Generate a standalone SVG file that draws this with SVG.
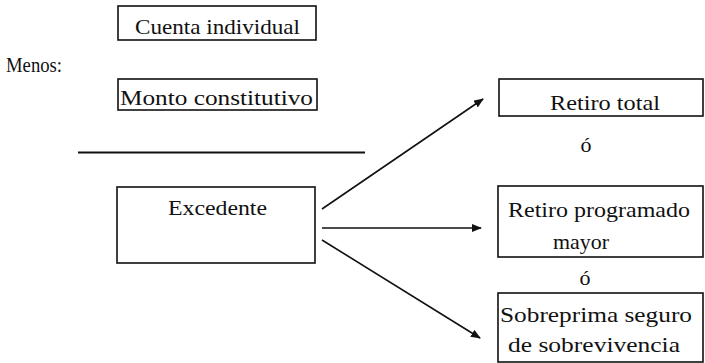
<svg xmlns="http://www.w3.org/2000/svg" width="705" height="363" viewBox="0 0 705 363">
  <style>
    .box { fill: #fff; stroke: #111; stroke-width: 1.6; }
    .t { font-family: "Liberation Serif", "Times New Roman", serif; font-size: 22px; fill: #111; }
    .c { text-anchor: middle; }
    .edge { stroke: #111; stroke-width: 1.6; fill: none; marker-end: url(#arrow); }
  </style>
  <defs>
    <marker id="arrow" markerWidth="10" markerHeight="8" refX="9" refY="4" orient="auto" markerUnits="userSpaceOnUse">
      <path d="M0,0 L10,4 L0,8 z" fill="#111"/>
    </marker>
  </defs>

  <rect width="705" height="363" fill="#fff"/>

  <g id="cuenta">
    <rect class="box" x="118" y="6" width="198" height="34"/>
    <text class="t" x="135" y="34" textLength="165" lengthAdjust="spacingAndGlyphs">Cuenta individual</text>
  </g>

  <text class="t" x="6" y="72" textLength="56" lengthAdjust="spacingAndGlyphs">Menos:</text>

  <g id="monto">
    <rect class="box" x="118" y="79" width="199" height="31"/>
    <text class="t" x="120" y="105" textLength="193" lengthAdjust="spacingAndGlyphs">Monto constitutivo</text>
  </g>

  <line x1="78" y1="152.5" x2="365" y2="152.5" stroke="#111" stroke-width="1.8"/>

  <g id="excedente">
    <rect class="box" x="117" y="187" width="198" height="76"/>
    <text class="t" x="168" y="215" textLength="99" lengthAdjust="spacingAndGlyphs">Excedente</text>
  </g>

  <g id="retiro-total">
    <rect class="box" x="499" y="79" width="204" height="37"/>
    <text class="t" x="550" y="110" textLength="110" lengthAdjust="spacingAndGlyphs">Retiro total</text>
    <text class="t c" x="586" y="152">ó</text>
  </g>

  <g id="retiro-programado">
    <rect class="box" x="498" y="186" width="205" height="71"/>
    <text class="t" x="508" y="217" textLength="182" lengthAdjust="spacingAndGlyphs">Retiro programado</text>
    <text class="t" x="553" y="249" textLength="56" lengthAdjust="spacingAndGlyphs">mayor</text>
    <text class="t c" x="585" y="285">ó</text>
  </g>

  <g id="sobreprima">
    <rect class="box" x="498" y="293" width="205" height="69"/>
    <text class="t" x="500" y="322" textLength="192" lengthAdjust="spacingAndGlyphs">Sobreprima seguro</text>
    <text class="t" x="508" y="352" textLength="172" lengthAdjust="spacingAndGlyphs">de sobrevivencia</text>
  </g>

  <g id="connectors">
    <line class="edge" x1="322" y1="209" x2="483" y2="99"/>
    <line class="edge" x1="322" y1="228" x2="481" y2="228"/>
    <line class="edge" x1="322" y1="240" x2="480" y2="338"/>
  </g>
</svg>
